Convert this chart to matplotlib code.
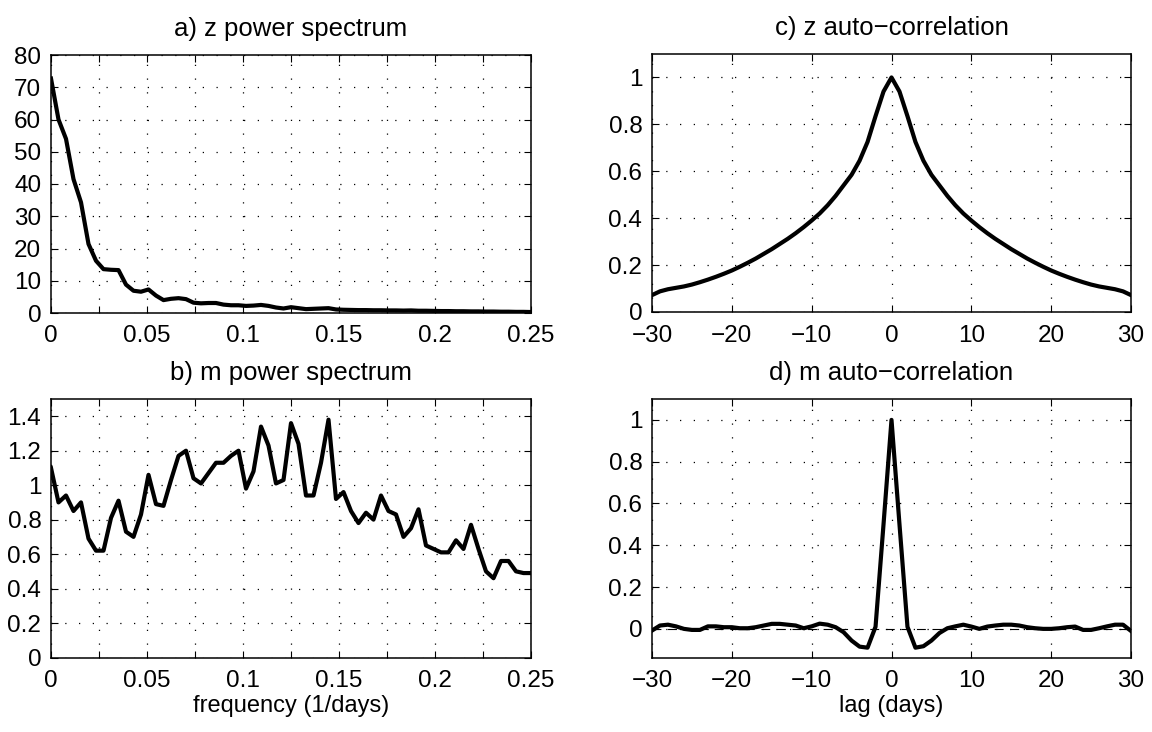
import numpy as np
import matplotlib
matplotlib.use('Agg')
import matplotlib.pyplot as plt
from matplotlib.ticker import MultipleLocator, FuncFormatter

plt.rcParams['font.family'] = ['Liberation Sans', 'DejaVu Sans']

# power spectra, frequency step 1/256 from 0 to 0.25
z_power = [72.7, 60.0, 54.0, 41.5, 34.3, 21.4, 16.2, 13.6, 13.4, 13.3,
           8.8, 6.9, 6.6, 7.3, 5.4, 4.0, 4.4, 4.6, 4.3, 3.2,
           3.0, 3.1, 3.1, 2.6, 2.4, 2.4, 2.2, 2.3, 2.5, 2.2,
           1.7, 1.4, 1.8, 1.5, 1.2, 1.3, 1.4, 1.5, 1.1, 1.0,
           0.95, 0.9, 0.9, 0.85, 0.85, 0.8, 0.8, 0.75, 0.8, 0.7,
           0.7, 0.65, 0.6, 0.6, 0.55, 0.55, 0.5, 0.5, 0.45, 0.45,
           0.4, 0.4, 0.35, 0.35, 0.3]
m_power = [1.10, 0.90, 0.94, 0.85, 0.90, 0.69, 0.62, 0.62, 0.81, 0.91,
           0.73, 0.70, 0.83, 1.06, 0.89, 0.88, 1.03, 1.17, 1.20, 1.04,
           1.01, 1.07, 1.13, 1.13, 1.17, 1.20, 0.98, 1.08, 1.34, 1.23,
           1.01, 1.03, 1.36, 1.24, 0.94, 0.94, 1.13, 1.38, 0.92, 0.96,
           0.85, 0.78, 0.84, 0.80, 0.94, 0.85, 0.83, 0.70, 0.75, 0.86,
           0.65, 0.63, 0.61, 0.61, 0.68, 0.63, 0.77, 0.63, 0.50, 0.46,
           0.56, 0.56, 0.50, 0.49, 0.49]
freq = np.arange(len(z_power)) / 256.0

# auto-correlations, lags -30..30 days
lags = np.arange(-30, 31)
z_acf = [0.072, 0.088, 0.097, 0.103, 0.109, 0.117, 0.127, 0.138, 0.150, 0.163,
         0.177, 0.193, 0.210, 0.228, 0.248, 0.268, 0.290, 0.312, 0.336, 0.362,
         0.390, 0.420, 0.455, 0.495, 0.540, 0.585, 0.645, 0.725, 0.835, 0.940,
         1.000,
         0.940, 0.835, 0.725, 0.645, 0.585, 0.540, 0.495, 0.455, 0.420, 0.390,
         0.362, 0.336, 0.312, 0.290, 0.268, 0.248, 0.228, 0.210, 0.193, 0.177,
         0.163, 0.150, 0.138, 0.127, 0.117, 0.109, 0.103, 0.097, 0.088, 0.072]
m_acf = [-0.008, 0.016, 0.02, 0.012, 0.0, -0.005, -0.005, 0.012, 0.012, 0.008,
         0.008, 0.003, 0.003, 0.008, 0.016, 0.024, 0.024, 0.02, 0.016, 0.003,
         0.012, 0.025, 0.02, 0.008, -0.016, -0.056, -0.085, -0.09, 0.01, 0.5,
         1.0,
         0.5, 0.01, -0.09, -0.083, -0.056, -0.02, 0.003, 0.012, 0.02, 0.011,
         0.0, 0.011, 0.016, 0.02, 0.02, 0.016, 0.008, 0.003, 0.0, 0.0,
         0.003, 0.008, 0.011, -0.005, -0.005, 0.003, 0.012, 0.02, 0.02, -0.01]

W, H = 1152, 732
fig = plt.figure(figsize=(W / 100, H / 100), dpi=100)


def box(left, top, right, bottom):
    return [left / W, 1 - bottom / H, (right - left) / W, (bottom - top) / H]


def fmt(v, pos):
    s = '%g' % round(v, 6)
    return s.replace('-', '\u2212')


def freq_fmt(v, pos):
    if int(round(v / 0.025)) % 2:
        return ''
    return fmt(v, pos)


def style(ax, title):
    ax.grid(True, color='k', linestyle=(0, (1, 10)), linewidth=0.9)
    ax.tick_params(direction='in', top=True, right=True, length=5, width=0.8,
                   labelsize=17.5)
    ax.tick_params(axis='x', pad=9)
    ax.tick_params(axis='y', pad=7)
    for sp in ax.spines.values():
        sp.set_linewidth(1.1)
    ax.yaxis.set_major_formatter(FuncFormatter(fmt))
    ax.set_title(title, fontsize=18.5, pad=14)


ax_a = fig.add_axes(box(51, 55, 531, 313))
ax_a.plot(freq, z_power, 'k', lw=3)
ax_a.set_xlim(0, 0.25)
ax_a.set_ylim(0, 80)
ax_a.xaxis.set_major_locator(MultipleLocator(0.025))
ax_a.xaxis.set_major_formatter(FuncFormatter(freq_fmt))
ax_a.yaxis.set_major_locator(MultipleLocator(10))
style(ax_a, 'a) z power spectrum')

ax_b = fig.add_axes(box(51, 399, 531, 657.5))
ax_b.plot(freq, m_power, 'k', lw=3)
ax_b.set_xlim(0, 0.25)
ax_b.set_ylim(0, 1.5)
ax_b.xaxis.set_major_locator(MultipleLocator(0.025))
ax_b.xaxis.set_major_formatter(FuncFormatter(freq_fmt))
ax_b.yaxis.set_major_locator(MultipleLocator(0.2))
style(ax_b, 'b) m power spectrum')
ax_b.set_xlabel('frequency (1/days)', fontsize=17, labelpad=2)

ax_c = fig.add_axes(box(652, 54, 1131, 312))
ax_c.plot(lags, z_acf, 'k', lw=3)
ax_c.set_xlim(-30, 30)
ax_c.set_ylim(0, 1.1)
ax_c.xaxis.set_major_locator(MultipleLocator(10))
ax_c.xaxis.set_major_formatter(FuncFormatter(fmt))
ax_c.yaxis.set_major_locator(MultipleLocator(0.2))
style(ax_c, 'c) z auto\u2212correlation')

ax_d = fig.add_axes(box(652, 399, 1131, 657.5))
ax_d.axhline(0, color='k', lw=0.8, ls=(0, (8, 6)))
ax_d.plot(lags, m_acf, 'k', lw=3)
ax_d.set_xlim(-30, 30)
ax_d.set_ylim(-0.137, 1.1)
ax_d.xaxis.set_major_locator(MultipleLocator(10))
ax_d.xaxis.set_major_formatter(FuncFormatter(fmt))
ax_d.set_yticks(np.arange(0, 1.01, 0.2))
style(ax_d, 'd) m auto\u2212correlation')
ax_d.set_xlabel('lag (days)', fontsize=17, labelpad=2)

fig.savefig('out.png', dpi=100)
